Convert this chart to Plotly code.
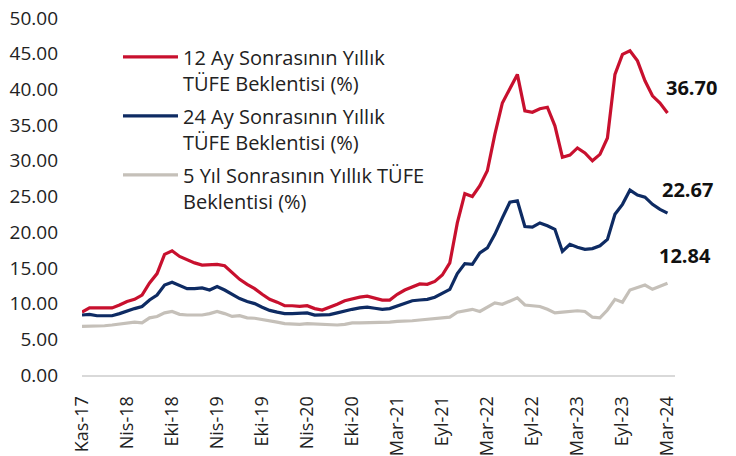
import plotly.graph_objects as go

# --- data ---
tick_labels = ["Kas-17", "Nis-18", "Eki-18", "Nis-19", "Eki-19", "Nis-20", "Eki-20",
               "Mar-21", "Eyl-21", "Mar-22", "Eyl-22", "Mar-23", "Eyl-23", "Mar-24"]
tick_step = 6

beklenti_12ay = [8.8, 9.4, 9.4, 9.4, 9.4, 9.8, 10.3, 10.6, 11.2, 12.9,
                 14.2, 16.9, 17.4, 16.6, 16.1, 15.7, 15.4, 15.4, 15.5, 15.3,
                 14.4, 13.4, 12.7, 12.1, 11.3, 10.6, 10.2, 9.7, 9.7, 9.6,
                 9.7, 9.3, 9.1, 9.45, 9.9, 10.4, 10.7, 10.9, 11.05, 10.8,
                 10.5, 10.5, 11.3, 11.9, 12.3, 12.75, 12.7, 13.1, 14.0, 15.7,
                 21.3, 25.4, 25.0, 26.5, 28.6, 33.7, 38.1, 40.2, 42.1, 37.0,
                 36.8, 37.3, 37.5, 34.9, 30.5, 30.8, 31.8, 31.1, 30.0, 30.9,
                 33.2, 42.1, 44.9, 45.4, 44.0, 41.2, 39.1, 38.1, 36.70]

beklenti_24ay = [8.4, 8.5, 8.3, 8.3, 8.3, 8.6, 9.0, 9.3, 9.6, 10.5,
                 11.2, 12.6, 13.0, 12.6, 12.1, 12.1, 12.2, 11.9, 12.4, 11.9,
                 11.3, 10.7, 10.3, 10.0, 9.5, 9.05, 8.8, 8.6, 8.6, 8.6,
                 8.7, 8.4, 8.4, 8.45, 8.7, 9.0, 9.2, 9.4, 9.5, 9.35,
                 9.2, 9.3, 9.7, 10.1, 10.4, 10.5, 10.6, 10.9, 11.4, 12.0,
                 14.2, 15.6, 15.5, 17.1, 17.8, 19.7, 22.0, 24.2, 24.4, 20.8,
                 20.7, 21.3, 20.9, 20.4, 17.3, 18.3, 17.9, 17.6, 17.7, 18.1,
                 19.0, 22.5, 23.9, 25.9, 25.2, 24.9, 23.9, 23.2, 22.67]

beklenti_5yil = [6.8, 6.8, 6.8, 6.9, 7.0, 7.1, 7.3, 7.4, 7.3, 8.0,
                 8.2, 8.7, 8.9, 8.5, 8.4, 8.4, 8.4, 8.6, 8.9, 8.6,
                 8.2, 8.3, 8.0, 7.95, 7.8, 7.6, 7.4, 7.2, 7.1, 7.1,
                 7.2, 7.15, 7.1, 7.0, 7.0, 7.1, 7.3, 7.3, 7.3, 7.3,
                 7.3, 7.4, 7.5, 7.5, 7.6, 7.7, 7.8, 7.9, 8.0, 8.1,
                 8.8, 9.0, 9.2, 8.9, 9.5, 10.1, 9.9, 10.3, 10.8, 9.8,
                 9.7, 9.6, 9.2, 8.7, 8.8, 8.9, 9.0, 8.9, 8.1, 8.0,
                 9.1, 10.6, 10.2, 11.9, 12.3, 12.6, 12.0, 12.4, 12.84]

series_names = ["12 Ay Sonrasının Yıllık<br>TÜFE Beklentisi (%)",
                "24 Ay Sonrasının Yıllık<br>TÜFE Beklentisi (%)",
                "5 Yıl Sonrasının Yıllık TÜFE<br>Beklentisi (%)"]
series_values = [beklenti_12ay, beklenti_24ay, beklenti_5yil]
series_colors = ["#C8102E", "#0E2B63", "#C5C0B9"]
label_shift = [(24, 25), (20, 24), (18, 28)]

FONT = "Open Sans, Segoe UI, sans-serif"
x_idx = list(range(len(beklenti_12ay)))

fig = go.Figure()
for i, (name, vals, col) in enumerate(zip(series_names, series_values, series_colors)):
    fig.add_trace(go.Scatter(
        x=x_idx, y=vals, mode="lines", name=name, legendgroup=f"g{i}",
        line=dict(color=col, width=3.2), cliponaxis=False,
        hoverinfo="skip",
    ))
    dx, dy = label_shift[i]
    fig.add_annotation(x=x_idx[-1], y=vals[-1], text=f"<b>{vals[-1]:.2f}</b>",
                       showarrow=False, xanchor="center", yanchor="middle",
                       xshift=dx, yshift=dy,
                       font=dict(family=FONT, size=20, color="#111111"))

# the page adds an 8px body margin, so the figure is 8px smaller than the window
fig.update_layout(
    width=728, height=448,
    margin=dict(l=74, r=61, t=10, b=81),
    paper_bgcolor="white", plot_bgcolor="white",
    font=dict(family=FONT, color="#222222"),
    showlegend=True,
    legend=dict(x=0.0607, y=0.946, xanchor="left", yanchor="top",
                font=dict(family=FONT, size=20, color="#222222"),
                bgcolor="rgba(0,0,0,0)", valign="top",
                tracegroupgap=4, itemwidth=55),
    xaxis=dict(range=[0, 79], tickmode="array",
               tickvals=x_idx[::tick_step], ticktext=tick_labels,
               tickangle=-90, showgrid=False, zeroline=False,
               showline=True, linecolor="#D9D9D9", linewidth=2,
               ticks="", tickfont=dict(family=FONT, size=18, color="#222222"),
               ticklabelstandoff=12, automargin=False,
               ticklabeloverflow="allow"),
    yaxis=dict(range=[0, 50], dtick=5, tickformat=".2f",
               showgrid=False, zeroline=False, showline=False, ticks="",
               tickfont=dict(family=FONT, size=19, color="#222222"),
               ticklabelstandoff=23, automargin=False,
               ticklabeloverflow="allow"),
)

fig.write_html("out.html")
